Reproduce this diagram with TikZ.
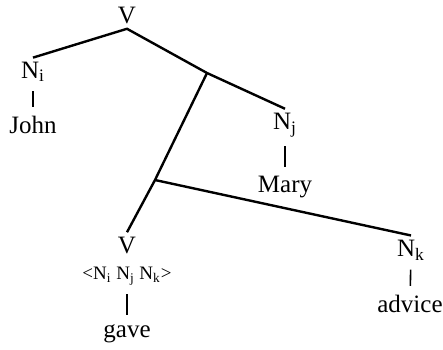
\documentclass[tikz,border=0pt]{standalone}
\usepackage{fontspec}
\setmainfont{Liberation Serif}
\usetikzlibrary{positioning}
\tikzset{
  cat/.style={inner sep=2pt, font=\fontsize{12.5}{14}\selectfont},
  branch/.style={line width=1.2pt},
  bar/.style={line width=0.8pt, shorten <=2.5pt, shorten >=2.5pt},
}
\newcommand{\Sub}[1]{N\textsubscript{#1}}

\begin{document}
\begin{tikzpicture}[x=0.5pt, y=-0.5pt]
  \useasboundingbox (0,0) rectangle (443,349);
  % categories
  \node[cat] (vtop) at (127,16) {V};
  \node[cat] (ni) at (33,72) {\Sub{i}};
  \node[cat] (nj) at (285,125) {\Sub{j}};
  \node[cat] (vlow) at (127,245) {V};
  \node[cat, font=\fontsize{9.5}{11}\selectfont] (frame) at (127,276)
    {<\Sub{i} \Sub{j} \Sub{k}>};
  \node[cat] (nk) at (411,250) {\Sub{k}};
  % words
  \node[cat] (john) at (33,125) {John};
  \node[cat] (mary) at (285,187) {Mary};
  \node[cat] (gave) at (127,334) {gave};
  \node[cat] (advice) at (410,304) {advice};
  % branching points
  \coordinate (j1) at (207,73);
  \coordinate (j2) at (155,180);

  \draw[branch] (ni.north) -- (vtop.south) -- (j1) -- (nj.north);
  \draw[branch] (j1) -- (j2) -- (vlow.north);
  \draw[branch] (j2) -- (nk.north);
  % lexical bars
  \draw[bar] (ni) -- (john);
  \draw[bar] (nj) -- (mary);
  \draw[bar] (frame) -- (gave);
  \draw[bar] (nk) -- (advice);
\end{tikzpicture}
\end{document}
